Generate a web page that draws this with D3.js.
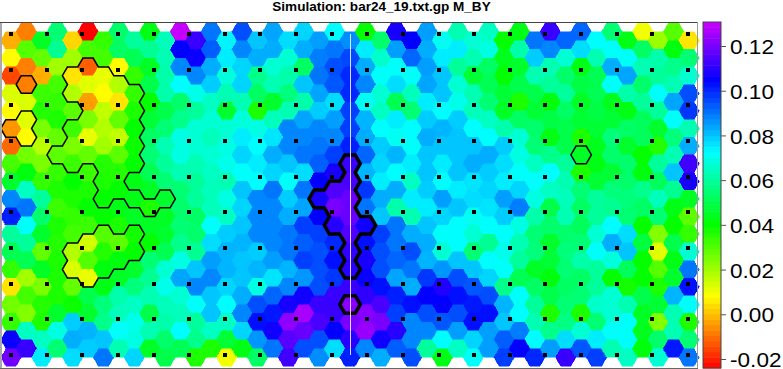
<!DOCTYPE html>
<html>
<head>
<meta charset="utf-8">
<title>M_BY</title>
<script src="https://cdn.jsdelivr.net/npm/d3@7"></script>
<style>
  html, body { margin: 0; padding: 0; background: #fff; }
  svg { display: block; }
  text { font-family: "Liberation Sans", Arial, sans-serif; fill: #000; }
</style>
</head>
<body>
<svg id="chart" width="783" height="369"></svg>
<script>
// values per hexagon row, left to right (45 columns)
const row00 = [-.002,-.008,.045,.055,.003,-.024,.034,.054,.06,.043,.064,.13,.112,.09,.074, .095,.08,.084,.077,.078,.085,.073,.087,.04,.054,.108,.105,.085,.071,.063, .067,.065,.04,.043,.09,.112,.092,.092,.073,.055,.043,.01,.021,.03,.005];
const row01 = [.008,.03,.028,.059,.02,.032,.032,.053,.051,.059,.063,.105,.106,.093,.075, .088,.083,.083,.067,.083,.089,.09,.096,.075,.066,.085,.092,.083,.075,.075, .063,.069,.044,.062,.079,.088,.067,.077,.063,.072,.072,.053,.062,.042,.055];
const row02 = [-.015,-.008,-.002,.02,.005,-.012,.011,.008,.034,.045,.062,.088,.088,.083,.068, .078,.058,.067,.062,.053,.09,.095,.1,.083,.072,.072,.072,.085,.08,.06, .047,.053,.04,.046,.063,.063,.054,.043,.051,.083,.084,.063,.06,.058,.067];
const row03 = [.013,-.008,.033,.032,.018,.012,.008,.018,.034,.05,.062,.073,.07,.079,.063, .078,.053,.063,.056,.08,.084,.094,.1,.088,.067,.077,.064,.084,.08,.067, .063,.051,.047,.05,.05,.06,.06,.049,.051,.072,.062,.054,.072,.063,.095];
const row04 = [.008,.013,.036,.034,.029,-.004,.016,.005,.037,.04,.05,.054,.06,.065,.046, .063,.037,.046,.063,.062,.079,.077,.097,.071,.065,.051,.055,.075,.073,.07, .064,.055,.045,.037,.047,.042,.053,.045,.049,.044,.043,.06,.06,.084,.098];
const row05 = [-.005,.012,.025,.037,.033,.025,.018,.028,.04,.047,.055,.058,.067,.067,.067, .068,.069,.064,.088,.084,.088,.085,.097,.082,.073,.075,.073,.079,.082,.079, .073,.065,.062,.053,.054,.049,.05,.047,.047,.047,.053,.052,.046,.072,.063];
const row06 = [-.011,.008,.017,.028,.025,.011,.02,.016,.039,.053,.063,.069,.067,.064,.069, .075,.073,.076,.088,.088,.09,.088,.101,.083,.079,.071,.072,.083,.08,.08, .08,.073,.079,.067,.055,.043,.05,.037,.044,.056,.046,.052,.036,.056,.083];
const row07 = [.032,.026,.025,.029,.033,.028,.036,.029,.04,.055,.06,.069,.063,.067,.07, .078,.075,.083,.08,.09,.093,.097,.112,.092,.078,.082,.075,.08,.075,.08, .083,.083,.077,.069,.065,.058,.06,.045,.043,.054,.054,.04,.06,.063,.113];
const row08 = [.046,.042,.034,.034,.04,.033,.037,.036,.043,.051,.055,.063,.06,.065,.063, .072,.073,.078,.072,.077,.105,.108,.114,.082,.075,.073,.065,.08,.073,.08, .076,.079,.075,.072,.072,.073,.063,.037,.047,.047,.054,.042,.052,.08,.108];
const row09 = [.088,.065,.06,.037,.037,.037,.04,.04,.043,.045,.046,.055,.06,.064,.069, .08,.088,.09,.079,.09,.108,.115,.118,.098,.083,.083,.075,.079,.085,.075, .077,.078,.085,.078,.069,.065,.064,.055,.06,.056,.056,.058,.064,.059,.045];
const row10 = [.101,.09,.054,.033,.034,.04,.04,.043,.045,.037,.045,.054,.053,.064,.065, .078,.088,.088,.083,.084,.105,.12,.118,.09,.08,.062,.063,.075,.078,.08, .071,.076,.079,.089,.062,.05,.063,.053,.06,.059,.055,.053,.055,.043,.029];
const row11 = [.06,.072,.046,.037,.032,.033,.03,.037,.038,.045,.046,.055,.054,.072,.079, .08,.088,.088,.09,.097,.097,.11,.115,.107,.097,.09,.083,.08,.072,.073, .067,.073,.072,.069,.055,.054,.054,.052,.067,.073,.077,.04,.024,.04,.034];
const row12 = [.051,.06,.028,.036,.018,.014,.036,.029,.04,.04,.051,.058,.059,.077,.082, .082,.079,.088,.09,.093,.095,.1,.111,.103,.095,.09,.095,.083,.067,.073, .055,.059,.07,.063,.056,.046,.056,.055,.072,.083,.08,.048,.012,.05,.067];
const row13 = [.034,.051,.045,.037,.013,.03,.042,.042,.046,.055,.067,.069,.08,.085,.082, .08,.082,.085,.082,.097,.095,.103,.11,.108,.095,.092,.09,.082,.086,.08, .08,.073,.072,.06,.045,.047,.055,.062,.06,.068,.052,.04,.03,.043,.09];
const row14 = [.005,.02,.025,.037,.028,.011,.043,.045,.056,.059,.07,.084,.088,.088,.078, .08,.069,.076,.088,.086,.095,.098,.112,.106,.103,.084,.083,.098,.109,.095, .094,.078,.058,.051,.053,.042,.053,.053,.06,.04,.038,.04,.037,.046,.103];
const row15 = [.026,.032,.036,.037,.039,.05,.056,.062,.065,.063,.064,.067,.072,.08,.073, .083,.095,.092,.108,.107,.112,.112,.122,.111,.114,.101,.103,.105,.105,.103, .102,.095,.082,.072,.06,.05,.055,.055,.066,.067,.063,.05,.047,.082,.072];
const row16 = [.034,.024,.037,.046,.079,.046,.058,.064,.07,.05,.062,.064,.06,.08,.065, .088,.103,.102,.123,.126,.114,.112,.12,.122,.12,.097,.088,.095,.094,.095, .103,.103,.08,.073,.063,.037,.057,.037,.055,.067,.072,.045,.024,.063,.037];
const row17 = [.106,.065,.065,.069,.083,.082,.08,.072,.069,.063,.054,.073,.058,.065,.047, .078,.086,.107,.116,.118,.095,.105,.11,.124,.107,.11,.088,.088,.073,.085, .078,.085,.093,.089,.073,.058,.077,.067,.075,.072,.072,.044,.054,.063,.055];
const row18 = [.119,.112,.075,.055,.077,.079,.09,.063,.078,.045,.05,.051,.037,.037,.01, .043,.053,.09,.113,.095,.087,.077,.101,.088,.083,.093,.095,.06,.043,.065, .072,.085,.097,.105,.1,.085,.112,.094,.097,.063,.065,.042,.067,.102,.09];
const hexRows = [row00,row01,row02,row03,row04,row05,row06,row07,row08,row09,row10,row11,row12,row13,row14,row15,row16,row17,row18];

// outlined areas, as [column, row] of the hexagons inside
const thinAreas = [
  [[1,3]],
  [[0,5],[1,5],[1,6]],
  [[4,2],[5,2],[6,2],[4,3],[5,3],[6,3],[7,3],[8,3],[5,4],[6,4],[7,4],[8,4],[4,5],[5,5],[6,5],[7,5],[8,5],
   [4,6],[5,6],[6,6],[7,6],[8,6],[3,7],[4,7],[5,7],[6,7],[7,7],[8,7],[6,8],[7,8],[6,9],[7,9],[8,9],[10,9],[9,10]],
  [[6,11],[8,11],[4,12],[5,12],[6,12],[7,12],[8,12],[4,13],[5,13],[6,13],[7,13],[5,14]],
  [[37,7]]
];
const thickAreas = [
  [[22,7],[22,8],[20,9],[21,9],[22,9],[21,10],[22,10],[21,11],[22,11],[23,11],[22,12],[22,13]],
  [[22,15]]
];

const probeCols = d3.range(20);
const probeRows = d3.range(10);
const tickValues = [-0.02, 0, 0.02, 0.04, 0.06, 0.08, 0.10, 0.12];
const tickLabels = ["-0.02", "0.00", "0.02", "0.04", "0.06", "0.08", "0.10", "0.12"];

const svg = d3.select("#chart");

const colX = d3.scaleLinear().domain([0, 44]).range([11, 689]);
const rowY = d3.scaleLinear().domain([0, 18]).range([31.7, 348.5]);
const probeX = d3.scaleLinear().domain([0, 19]).range([11, 688]);
const probeY = d3.scaleLinear().domain([0, 9]).range([34, 355]);

// rainbow: red at the bottom, purple at the top
const hue = d3.scaleLinear().domain([-0.024, 0.1307]).range([0, 288]);
const color = v => d3.hsl(hue(v), 1, 0.5).formatHex();

const halfW = (colX(1) - colX(0)) * 2 / 3;
const halfH = (rowY(1) - rowY(0)) / 2;

// the reference text is stretched sideways
const stretch = 1.13;

// corners of one hexagon
function corners(col, row) {
  const cx = colX(col);
  const cy = rowY(col % 2 === 0 ? row + 0.5 : row);
  return [
    [cx - halfW, cy], [cx - halfW / 2, cy - halfH], [cx + halfW / 2, cy - halfH],
    [cx + halfW, cy], [cx + halfW / 2, cy + halfH], [cx - halfW / 2, cy + halfH]
  ];
}

const cells = [];
hexRows.forEach((values, row) => values.forEach((v, col) => cells.push({ col, row, v })));

svg.append("g").selectAll("polygon")
  .data(cells)
  .enter().append("polygon")
  .attr("points", d => corners(d.col, d.row).map(p => p.join(",")).join(" "))
  .attr("fill", d => color(d.v))
  .attr("stroke", d => color(d.v))
  .attr("stroke-width", 0.5)
  .attr("shape-rendering", "crispEdges");

// edges used by only one hexagon of an area form its outline
function outline(area) {
  const edges = new Map();
  area.forEach(([col, row]) => {
    const pts = corners(col, row);
    pts.forEach((p, i) => {
      const q = pts[(i + 1) % 6];
      const a = p.map(n => n.toFixed(1)).join(",");
      const b = q.map(n => n.toFixed(1)).join(",");
      const key = a < b ? a + "|" + b : b + "|" + a;
      if (edges.has(key)) edges.delete(key);
      else edges.set(key, [p, q]);
    });
  });
  const path = d3.path();
  edges.forEach(([p, q]) => { path.moveTo(p[0], p[1]); path.lineTo(q[0], q[1]); });
  return path.toString();
}

function drawAreas(areas, width) {
  svg.append("g").selectAll("path")
    .data(areas)
    .enter().append("path")
    .attr("d", outline)
    .attr("fill", "none")
    .attr("stroke", "#000")
    .attr("stroke-width", width)
    .attr("stroke-linecap", "round");
}
drawAreas(thinAreas, 1.5);
drawAreas(thickAreas, 3.5);

// white line down the middle
svg.append("line")
  .attr("x1", 350.5).attr("x2", 350.5)
  .attr("y1", probeY(0)).attr("y2", probeY(9))
  .attr("stroke", "#fff")
  .attr("stroke-opacity", 0.85)
  .attr("stroke-width", 1);

// probe markers
const probes = probeRows.flatMap(r => probeCols.map(c => ({ r, c })));
svg.append("g").selectAll("rect")
  .data(probes)
  .enter().append("rect")
  .attr("x", d => Math.round(probeX(d.c)) - 2)
  .attr("y", d => Math.round(probeY(d.r)) - 2)
  .attr("width", 4)
  .attr("height", 4)
  .attr("fill", "#000");

// plot frame
svg.append("rect").attr("x", 0).attr("y", 22).attr("width", 2).attr("height", 347).attr("fill", "#aaa");
svg.append("line").attr("x1", 0).attr("x2", 698).attr("y1", 22.5).attr("y2", 22.5).attr("stroke", "#444");
svg.append("line").attr("x1", 697.5).attr("x2", 697.5).attr("y1", 22).attr("y2", 369).attr("stroke", "#999");
svg.append("line").attr("x1", 0).attr("x2", 698).attr("y1", 368.5).attr("y2", 368.5).attr("stroke", "#666");

// colour bar
const barY = d3.scaleLinear().domain([-0.02, 0.12]).range([359, 46]);
const barTop = barY.invert(22);
const barBottom = barY.invert(368);
const levels = d3.range(0, 64).map(i => barBottom + (barTop - barBottom) * i / 64);
const levelStep = (barTop - barBottom) / 64;

svg.append("g").selectAll("rect")
  .data(levels)
  .enter().append("rect")
  .attr("x", 703)
  .attr("width", 18)
  .attr("y", d => barY(d + levelStep))
  .attr("height", d => barY(d) - barY(d + levelStep) + 0.5)
  .attr("fill", d => color(d + levelStep / 2));

svg.append("rect")
  .attr("x", 703).attr("y", barY(barTop))
  .attr("width", 18).attr("height", barY(barBottom) - barY(barTop))
  .attr("fill", "none").attr("stroke", "#444");

const barAxis = svg.append("g")
  .attr("transform", "translate(721,0)")
  .call(d3.axisRight(barY)
    .tickValues(tickValues)
    .tickFormat((d, i) => tickLabels[i])
    .tickSize(5)
    .tickPadding(4));
barAxis.select(".domain").remove();
barAxis.selectAll("line").attr("stroke", "#555");
barAxis.selectAll("text")
  .attr("font-family", "Liberation Sans, Arial, sans-serif")
  .attr("font-size", 20)
  .attr("x", 8)
  .attr("dy", "0.38em")
  .attr("transform", `scale(${stretch},1)`);

// title
svg.append("text")
  .attr("transform", `translate(381.5,11) scale(${stretch},1)`)
  .attr("text-anchor", "middle")
  .attr("font-size", 12)
  .attr("font-weight", "bold")
  .text("Simulation: bar24_19.txt.gp M_BY");
</script>
</body>
</html>
